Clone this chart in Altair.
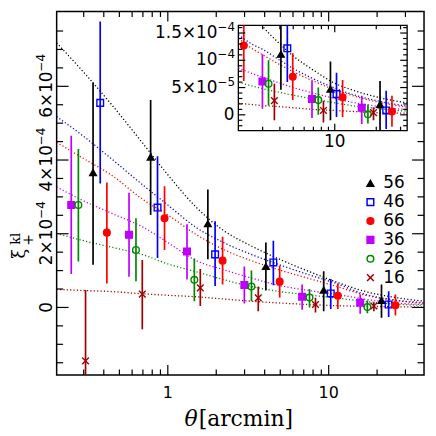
import altair as alt
import pandas as pd

# ---------------- data (xi_+ values in units of 1e-4, theta in arcmin) ----------------
series = ["56", "46", "66", "36", "26", "16"]
colors = ["#000000", "#0000ff", "#ff0000", "#c000ff", "#008800", "#a00000"]
fills = ["#000000", "transparent", "#ff0000", "#c000ff", "transparent", "transparent"]
shapes = ["triangle-up", "square", "circle", "square", "circle", "M-1,-1L1,1M-1,1L1,-1"]

theta_56 = [0.343, 0.782, 1.774, 4.07, 9.31, 21.3]
xi_56 = [3.66, 4.08, 2.27, 1.11, 0.47, 0.19]
lo_56 = [1.16, 2.51, 1.31, 0.46, -0.10, -0.28]
hi_56 = [6.10, 5.63, 3.20, 1.76, 0.98, 0.62]

theta_46 = [0.380, 0.863, 1.968, 4.53, 10.3, 23.6]
xi_46 = [5.55, 2.71, 1.44, 1.22, 0.38, 0.08]
lo_46 = [3.36, 1.34, 0.58, 0.60, -0.04, -0.26]
hi_46 = [7.76, 4.10, 2.34, 1.81, 0.77, 0.44]

theta_66 = [0.418, 0.954, 2.19, 4.96, 11.4, 26.0]
xi_66 = [2.03, 2.42, 1.27, 0.70, 0.32, 0.06]
lo_66 = [0.65, 1.56, 0.62, 0.27, -0.04, -0.22]
hi_66 = [3.39, 3.29, 1.92, 1.13, 0.64, 0.35]

theta_36 = [0.251, 0.574, 1.316, 2.99, 6.84, 15.7]
xi_36 = [2.78, 1.97, 1.52, 0.61, 0.29, 0.13]
lo_36 = [0.91, 0.83, 0.76, 0.11, -0.06, -0.17]
hi_36 = [4.66, 3.11, 2.26, 1.11, 0.62, 0.35]

theta_26 = [0.278, 0.634, 1.462, 3.31, 7.60, 17.4]
xi_26 = [2.78, 1.56, 0.75, 0.57, 0.27, 0.01]
lo_26 = [1.25, 0.71, 0.17, 0.17, 0.00, -0.16]
hi_26 = [4.30, 2.42, 1.33, 1.00, 0.50, 0.19]

theta_16 = [0.308, 0.694, 1.592, 3.65, 8.28, 19.1]
xi_16 = [-1.45, 0.36, 0.53, 0.26, 0.08, 0.04]
lo_16 = [-3.40, -0.59, 0.04, -0.10, -0.14, -0.10]
hi_16 = [0.47, 1.29, 1.04, 0.57, 0.26, 0.14]

# model curves (dotted) in the main panel
curve_theta = [0.2037, 0.3, 0.45, 0.7, 1.0, 1.5, 2.2, 3.3, 5.0, 7.5, 11.0, 17.0, 26.0, 39.0]
model_56 = [7.18, 6.38, 5.49, 4.45, 3.60, 2.72, 2.10, 1.67, 1.30, 0.98, 0.70, 0.43, 0.27, 0.17]
model_46 = [5.18, 4.64, 4.02, 3.32, 2.78, 2.17, 1.77, 1.44, 1.15, 0.89, 0.66, 0.35, 0.20, 0.13]
model_66 = [4.48, 4.04, 3.58, 2.93, 2.51, 1.98, 1.58, 1.27, 1.01, 0.79, 0.58, 0.33, 0.19, 0.11]
model_36 = [3.27, 2.89, 2.55, 2.18, 1.76, 1.27, 1.03, 0.80, 0.59, 0.46, 0.36, 0.22, 0.12, 0.08]
model_26 = [2.01, 1.81, 1.63, 1.43, 1.18, 0.97, 0.76, 0.57, 0.43, 0.34, 0.26, 0.16, 0.09, 0.06]
model_16 = [0.49, 0.46, 0.43, 0.37, 0.33, 0.29, 0.23, 0.17, 0.12, 0.08, 0.05, 0.03, 0.02, 0.01]

# model curves as drawn in the inset
inset_theta = [2.0, 2.5, 3.0, 4.0, 5.0, 7.0, 10.0, 14.0, 20.0, 28.0, 33.5]
inset_56 = [2.10, 1.87, 1.62, 1.30, 1.08, 0.82, 0.58, 0.44, 0.33, 0.25, 0.22]
inset_46 = [1.47, 1.30, 1.20, 1.00, 0.85, 0.66, 0.49, 0.36, 0.26, 0.19, 0.16]
inset_66 = [1.40, 1.22, 1.10, 0.92, 0.79, 0.62, 0.46, 0.34, 0.24, 0.17, 0.14]
inset_36 = [0.86, 0.76, 0.69, 0.58, 0.50, 0.40, 0.30, 0.22, 0.16, 0.11, 0.10]
inset_26 = [0.60, 0.53, 0.48, 0.41, 0.36, 0.29, 0.22, 0.16, 0.12, 0.08, 0.07]
inset_16 = [0.21, 0.19, 0.17, 0.15, 0.13, 0.10, 0.08, 0.06, 0.04, 0.03, 0.03]

# axis ticks and tick labels (mantissa part and exponent part)
main_x_major = [1, 10]
main_x_labels = ["1", "10"]
main_x_minor = [0.3, 0.4, 0.5, 0.6, 0.7, 0.8, 0.9, 2, 3, 4, 5, 6, 7, 8, 9, 20, 30]
main_y_zero = [0]
main_y_major = [2, 4, 6]
main_y_base = ["2×10", "4×10", "6×10"]
main_y_exp = ["−4", "−4", "−4"]
main_y_minor = [-1.5, -1, -0.5, 0.5, 1, 1.5, 2.5, 3, 3.5, 4.5, 5, 5.5, 6.5, 7, 7.5]
ins_x_major = [10]
ins_x_labels = ["10"]
ins_x_minor = [3, 4, 5, 6, 7, 8, 9, 20, 30]
ins_y_zero = [0]
ins_y_major = [0.5, 1.0, 1.5]
ins_y_base = ["5×10", "10", "1.5×10"]
ins_y_exp = ["−5", "−4", "−4"]
ins_y_minor = [-0.2, -0.1, 0.1, 0.2, 0.3, 0.4, 0.6, 0.7, 0.8, 0.9, 1.1, 1.2, 1.3, 1.4, 1.6]

# ---------------- tables ----------------
rows = []
for name, th, xi, lo, hi in [("56", theta_56, xi_56, lo_56, hi_56),
                             ("46", theta_46, xi_46, lo_46, hi_46),
                             ("66", theta_66, xi_66, lo_66, hi_66),
                             ("36", theta_36, xi_36, lo_36, hi_36),
                             ("26", theta_26, xi_26, lo_26, hi_26),
                             ("16", theta_16, xi_16, lo_16, hi_16)]:
    for a, b, c, d in zip(th, xi, lo, hi):
        rows.append({"series": name, "theta": a, "xi": b, "lo": c, "hi": d})
pts = pd.DataFrame(rows)

def curve_table(th, models):
    out = []
    for name, m in zip(series, models):
        for a, b in zip(th, m):
            out.append({"series": name, "theta": a, "xi": b})
    return pd.DataFrame(out)

curves = curve_table(curve_theta, [model_56, model_46, model_66, model_36, model_26, model_16])
inset_curves = curve_table(inset_theta, [inset_56, inset_46, inset_66, inset_36, inset_26, inset_16])

# ---------------- layout ----------------
W, H = 370, 366
IL, IR, IT, IB = 183, 353, 14, 120  # inset box in plot pixels
FONT = "DejaVu Sans"

X_MAIN = alt.Scale(type="log", domain=[0.2037, 39.15], nice=False)
Y_MAIN = alt.Scale(domain=[-1.83, 8.03], nice=False, zero=False)
X_INS = alt.Scale(type="log", domain=[2.0, 33.5], nice=False, range=[IL, IR])
Y_INS = alt.Scale(domain=[-0.29, 1.64], nice=False, zero=False, range=[IB, IT])
Y_LEG = alt.Scale(type="point", domain=series, range=[173, 268], padding=0)

def stroke_enc():
    return alt.Stroke("series:N", scale=alt.Scale(domain=series, range=colors), legend=None)

def fill_enc():
    return alt.Fill("series:N", scale=alt.Scale(domain=series, range=fills), legend=None)

def shape_enc():
    return alt.Shape("series:N", scale=alt.Scale(domain=series, range=shapes), legend=None)

INSET_CLIP = alt.ExprRef(expr=f"pathShape('M{IL},{IT}H{IR}V{IB}H{IL}Z')")

def layers(xs, ys, clip, data_pts, data_curves):
    c = alt.Chart(data_curves).mark_line(strokeDash=[1.2, 2.2], strokeWidth=1.3,
                                         interpolate="monotone", clip=clip).encode(
        x=alt.X("theta:Q", scale=xs, axis=None),
        y=alt.Y("xi:Q", scale=ys, axis=None),
        stroke=stroke_enc(), detail="series:N")
    b = alt.Chart(data_pts).mark_rule(strokeWidth=1.7, clip=clip).encode(
        x=alt.X("theta:Q", scale=xs, axis=None),
        y=alt.Y("lo:Q", scale=ys, axis=None), y2="hi:Q",
        stroke=stroke_enc())
    p = alt.Chart(data_pts).mark_point(filled=True, opacity=1, size=45, strokeWidth=1.4,
                                       clip=clip).encode(
        x=alt.X("theta:Q", scale=xs, axis=None),
        y=alt.Y("xi:Q", scale=ys, axis=None),
        stroke=stroke_enc(), fill=fill_enc(), shape=shape_enc())
    return [c, b, p]

def yticks(vals, ys, x0, x1):
    return alt.Chart(pd.DataFrame({"v": vals})).mark_rule(color="black", strokeWidth=1.2).encode(
        y=alt.Y("v:Q", scale=ys, axis=None), x=alt.value(x0), x2=alt.value(x1))

def xticks(vals, xs, y0, y1):
    return alt.Chart(pd.DataFrame({"v": vals})).mark_rule(color="black", strokeWidth=1.2).encode(
        x=alt.X("v:Q", scale=xs, axis=None), y=alt.value(y0), y2=alt.value(y1))

one = pd.DataFrame({"k": [0]})

def label(text, x, y, size, font=FONT, angle=0, align="center", baseline="alphabetic", style="normal"):
    return alt.Chart(one).mark_text(text=text, angle=angle, font=font, fontSize=size, align=align,
                                    baseline=baseline, color="black", fontStyle=style).encode(
        x=alt.value(x), y=alt.value(y))

def ylabels(vals, texts, ys, x, size, **kw):
    return alt.Chart(pd.DataFrame({"v": vals, "t": texts})).mark_text(
        font=FONT, fontSize=size, color="black", **kw).encode(
        y=alt.Y("v:Q", scale=ys, axis=None), x=alt.value(x), text="t:N")

# main tick labels through the scales
main_xlab = alt.Chart(pd.DataFrame({"v": main_x_major, "t": main_x_labels})).mark_text(
    font=FONT, fontSize=16, baseline="top", align="center", color="black").encode(
    x=alt.X("v:Q", scale=X_MAIN, axis=None), y=alt.value(H + 10), text="t:N")
main_ylab = [
    ylabels(main_y_zero, ["0"], Y_MAIN, -5, 17, angle=270, baseline="alphabetic", align="center"),
    ylabels(main_y_major, main_y_base, Y_MAIN, -5, 17, angle=270, baseline="alphabetic",
            align="right", dx=15),
    ylabels(main_y_major, main_y_exp, Y_MAIN, -5, 12, angle=270, baseline="alphabetic",
            align="left", dx=15, dy=-7),
]
ins_xlab = alt.Chart(pd.DataFrame({"v": ins_x_major, "t": ins_x_labels})).mark_text(
    font=FONT, fontSize=17, baseline="top", align="center", color="black").encode(
    x=alt.X("v:Q", scale=X_INS, axis=None), y=alt.value(IB + 3), text="t:N")
ins_ylab = [
    ylabels(ins_y_zero, ["0"], Y_INS, IL - 4, 17, baseline="middle", align="right"),
    ylabels(ins_y_major, ins_y_base, Y_INS, IL - 4, 17, baseline="middle", align="right", dx=-17),
    ylabels(ins_y_major, ins_y_exp, Y_INS, IL - 4, 12, baseline="middle", align="left", dx=-17,
            dy=-6),
]

titles = [
    label("θ", 142, H + 51, 22, font="DejaVu Serif", align="right", style="italic"),
    label("[arcmin]", 143, H + 51, 22, font="DejaVu Serif", align="left"),
    label("ξ", -32, 244, 18, font="DejaVu Serif", angle=270),
    label("kl", -37, 229, 13, font="DejaVu Serif", angle=270),
    label("+", -24, 230, 14, font="DejaVu Serif", angle=270),
]

main = alt.layer(
    *layers(X_MAIN, Y_MAIN, True, pts, curves),
    yticks([0] + main_y_major, Y_MAIN, 0, 12), yticks(main_y_minor, Y_MAIN, 0, 6.5),
    yticks([0] + main_y_major, Y_MAIN, W, W - 12), yticks(main_y_minor, Y_MAIN, W, W - 6.5),
    xticks(main_x_major, X_MAIN, H, H - 10), xticks(main_x_minor, X_MAIN, H, H - 5.5),
    xticks(main_x_major, X_MAIN, 0, 10), xticks(main_x_minor, X_MAIN, 0, 5.5),
    main_xlab, *main_ylab, *titles,
)

ins_bg = alt.Chart(one).mark_rect(fill="white", stroke="black", strokeWidth=1.3).encode(
    x=alt.value(IL), x2=alt.value(IR), y=alt.value(IT), y2=alt.value(IB))

ins_pts = pts[pts["theta"] >= 2.0]
inset = alt.layer(
    ins_bg,
    *layers(X_INS, Y_INS, INSET_CLIP, ins_pts, inset_curves),
    yticks([0] + ins_y_major, Y_INS, IL, IL + 7), yticks(ins_y_minor, Y_INS, IL, IL + 4),
    yticks([0] + ins_y_major, Y_INS, IR, IR - 7), yticks(ins_y_minor, Y_INS, IR, IR - 4),
    xticks(ins_x_major, X_INS, IB, IB - 7), xticks(ins_x_minor, X_INS, IB, IB - 4),
    xticks(ins_x_major, X_INS, IT, IT + 7), xticks(ins_x_minor, X_INS, IT, IT + 4),
    ins_xlab, *ins_ylab,
)

# legend drawn from the series list through a point scale
leg_df = pd.DataFrame({"series": series})
leg = alt.layer(
    alt.Chart(leg_df).mark_point(filled=True, opacity=1, size=45, strokeWidth=1.5).encode(
        y=alt.Y("series:N", scale=Y_LEG, axis=None), x=alt.value(316),
        stroke=stroke_enc(), fill=fill_enc(), shape=shape_enc()),
    alt.Chart(leg_df).mark_text(font=FONT, fontSize=17, align="left", baseline="middle",
                                color="black").encode(
        y=alt.Y("series:N", scale=Y_LEG, axis=None), x=alt.value(329), text="series:N"),
)

chart = alt.layer(main, inset, leg).resolve_scale(x="independent", y="independent").properties(
    width=W, height=H,
    padding={"left": 49, "top": 2, "right": 4, "bottom": 56},
    autosize=alt.AutoSizeParams(type="none"),
).configure_view(stroke="black", strokeWidth=1.5)

chart.save("out.html", embed_options={"renderer": "svg", "actions": False})
